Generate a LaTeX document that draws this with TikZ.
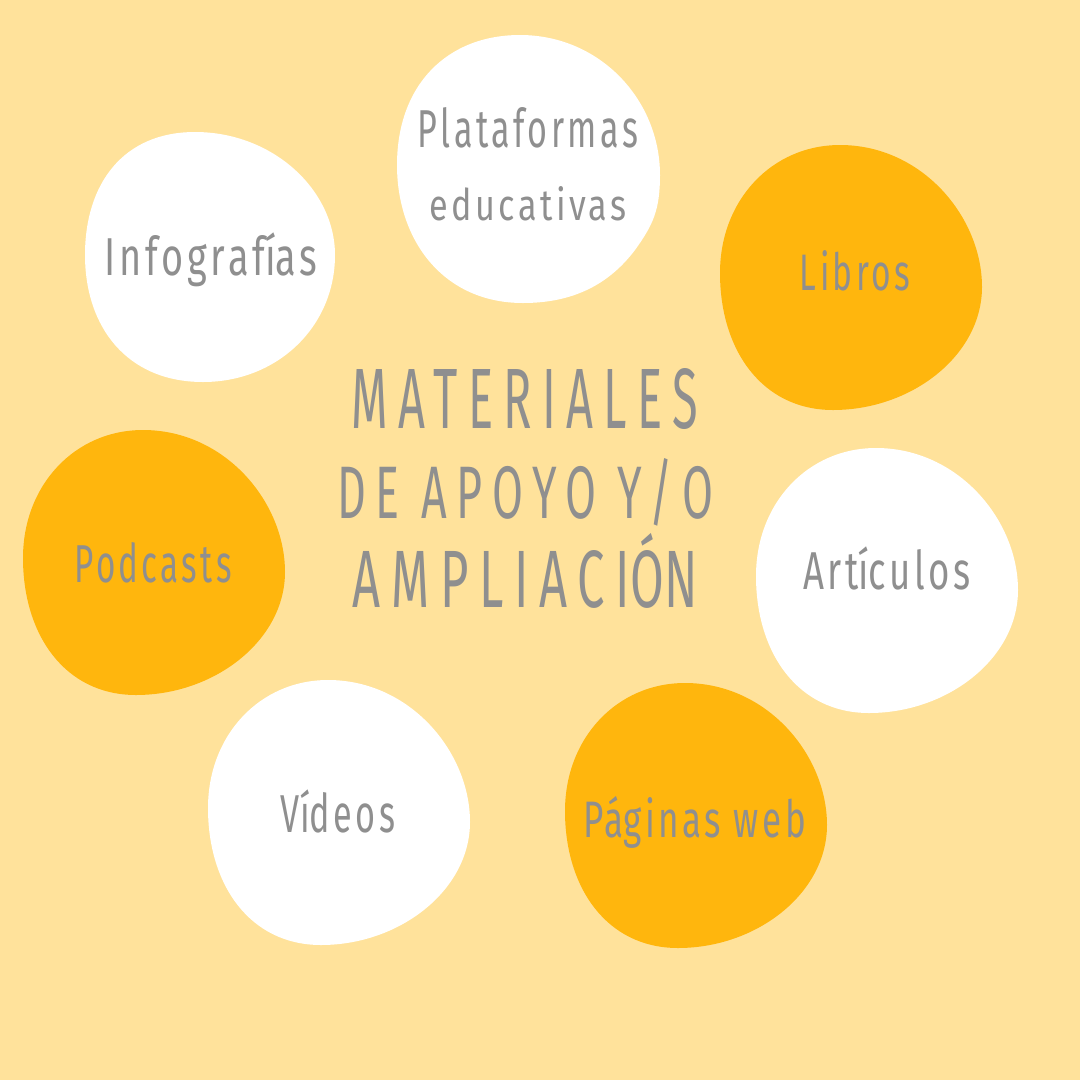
\documentclass[tikz,border=0pt]{standalone}
\usepackage{fontspec}
\usepackage{graphicx}
\setmainfont{Fira Sans}[LetterSpace=10]
\newfontfamily\titlefont{Fira Sans}[LetterSpace=22]
\definecolor{bg}{HTML}{FFE29B}
\definecolor{blobor}{HTML}{FFB60D}
\definecolor{blobwh}{HTML}{FFFFFF}
\definecolor{txt}{HTML}{8F8F8F}
\newcommand{\fitbox}[3]{\resizebox{#1pt}{#2pt}{#3}}
\tikzset{
  pics/blobA/.style={code={\fill[#1] (123,0)
      .. controls (205,0) and (265,72) .. (265,142)
      .. controls (265,210) and (195,265) .. (116,265)
      .. controls (45,265) and (3,205) .. (3,128)
      .. controls (3,55) and (55,0) .. (123,0) -- cycle;}},
  pics/blobB/.style={code={\fill[#1] (125,0)
      .. controls (205,0) and (265,65) .. (265,140)
      .. controls (265,175) and (258,190) .. (240,215)
      .. controls (215,248) and (180,268) .. (128,268)
      .. controls (48,268) and (2,205) .. (2,130)
      .. controls (2,50) and (52,0) .. (125,0) -- cycle;}},
  pics/blobC/.style={code={\fill[#1] (110,0)
      .. controls (188,0) and (250,58) .. (250,123)
      .. controls (250,195) and (192,250) .. (118,250)
      .. controls (42,250) and (0,195) .. (0,123)
      .. controls (0,52) and (38,0) .. (110,0) -- cycle;}},
  lab/.style={text=txt, inner sep=0pt, anchor=base},
}
\begin{document}
\begin{tikzpicture}[x=1pt, y=-1pt]
\useasboundingbox (0,0) rectangle (1080,1080);
\fill[bg] (0,0) rectangle (1080,1080);
% blobs
\pic at (395,35) {blobB=blobwh};
\pic at (85,132) {blobC=blobwh};
\pic at (717,145) {blobA=blobor};
\pic at (20,430) {blobA=blobor};
\pic at (753,448) {blobA=blobwh};
\pic at (205,680) {blobA=blobwh};
\pic at (562,683) {blobA=blobor};
% labels
\node[lab] (plat1) at (528,147) {\fitbox{220}{40}{Plataformas}};
\node[lab] (plat2) at (528,220) {\fitbox{197}{34}{educativas}};
\node[lab] (info) at (211,275) {\fitbox{213}{40}{Infograf\smash{í}as}};
\node[lab] (lib) at (855,290) {\fitbox{110}{40}{Libros}};
\node[lab] (pod) at (153,582) {\fitbox{157}{40}{Podcasts}};
\node[lab] (art) at (887,589) {\fitbox{168}{40}{Art\smash{í}culos}};
\node[lab] (vid) at (338,832) {\fitbox{114}{40}{V\smash{í}deos}};
\node[lab] (pag) at (695,837) {\fitbox{222}{40}{P\smash{á}ginas web}};
% title
\node[lab, font=\titlefont] (t1) at (525,428) {\fitbox{346}{60}{MATERIALES}};
\node[lab, font=\titlefont] (t2) at (525,518) {\fitbox{376}{60}{DE APOYO Y/O}};
\node[lab, font=\titlefont] (t3) at (525,607) {\fitbox{345}{57}{AMPLIACI\smash{Ó}N}};
\end{tikzpicture}
\end{document}
